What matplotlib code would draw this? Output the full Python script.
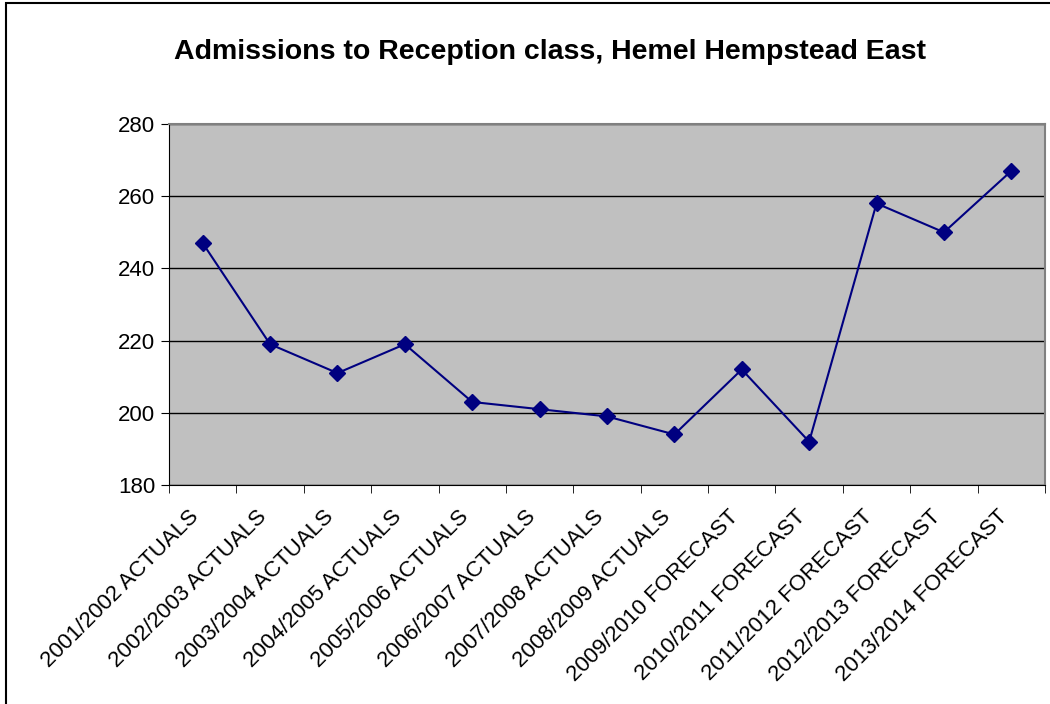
import matplotlib.pyplot as plt
from matplotlib.patches import Rectangle
import matplotlib.transforms as mtransforms
import numpy as np

plt.rcParams['font.family'] = ['Liberation Sans', 'DejaVu Sans']

# Datos
categorias = ['2001/2002 ACTUALS', '2002/2003 ACTUALS', '2003/2004 ACTUALS',
              '2004/2005 ACTUALS', '2005/2006 ACTUALS', '2006/2007 ACTUALS',
              '2007/2008 ACTUALS', '2008/2009 ACTUALS', '2009/2010 FORECAST',
              '2010/2011 FORECAST', '2011/2012 FORECAST', '2012/2013 FORECAST',
              '2013/2014 FORECAST']
admisiones = [247, 219, 211, 219, 203, 201, 199, 194, 212, 192, 258, 250, 267]
y_ticks = [180, 200, 220, 240, 260, 280]

fig = plt.figure(figsize=(10.5, 7.04), dpi=100)
ax = fig.add_axes([169/1050, 1 - 485/704, (1045 - 169)/1050, (485 - 124)/704])

# marco exterior del gráfico
fig.patches.append(Rectangle((5.5/1050, -0.1), 1.2, 1.1 - 3/704, transform=fig.transFigure,
                             fill=False, edgecolor='black', linewidth=1.5))

x = np.arange(len(categorias))
ax.set_facecolor('#C0C0C0')
ax.plot(x, admisiones, color='#000080', marker='D', markersize=8, linewidth=1.5)

ax.set_xlim(-0.5, len(categorias) - 0.5)
ax.set_ylim(180, 280)
ax.set_yticks(y_ticks)
ax.yaxis.grid(True, color='black', linewidth=1)
ax.set_axisbelow(True)

ax.set_xticks(x)
ax.set_xticklabels(categorias, rotation=45, ha='right', rotation_mode='anchor', fontsize=16)
ax.set_xticks(np.arange(len(categorias) + 1) - 0.5, minor=True)
ax.tick_params(axis='x', which='major', length=0, pad=14)
ax.tick_params(axis='x', which='minor', length=6, direction='out', color='black')
ax.tick_params(axis='y', length=6, direction='out', labelsize=16, pad=4)

# desplazar etiquetas para que terminen en el centro de la categoría
offset = mtransforms.ScaledTranslation(-14/100, -2/100, fig.dpi_scale_trans)
for lbl in ax.get_xticklabels():
    lbl.set_transform(lbl.get_transform() + offset)

for s in ['left', 'bottom']:
    ax.spines[s].set_color('black')
for s in ['top', 'right']:
    ax.spines[s].set_color('#808080')
    ax.spines[s].set_linewidth(1.5)

fig.text(550/1050, 1 - 52/704, 'Admissions to Reception class, Hemel Hempstead East',
         ha='center', va='center', fontsize=20.5, fontweight='bold')

plt.savefig('out.png', dpi=100)
plt.close()
